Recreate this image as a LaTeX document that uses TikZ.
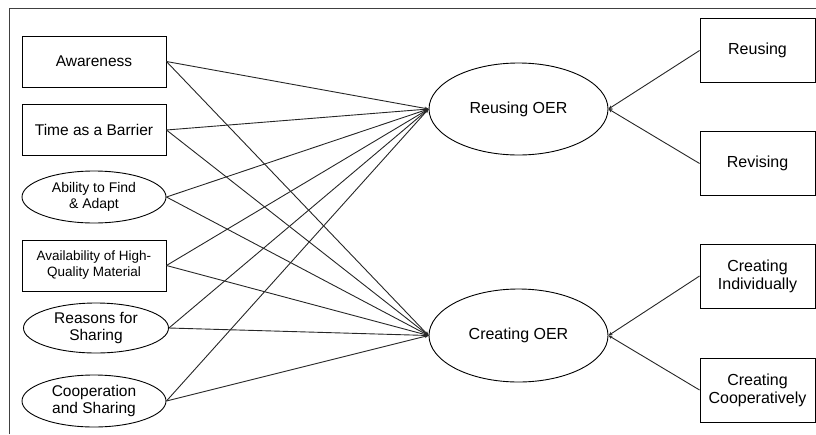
\documentclass[tikz,border=0pt]{standalone}
\usepackage{fontspec}
\setmainfont{Liberation Sans}
\usetikzlibrary{shapes,arrows.meta,positioning}

\tikzset{
	factor/.style={draw, rectangle, minimum width=144, minimum height=51, inner sep=0pt, align=center, font=\fontsize{15.5}{17}\selectfont},
	factoroval/.style={draw, ellipse, minimum width=144, minimum height=52, inner sep=0pt, align=center, font=\fontsize{15.5}{17}\selectfont},
	latent/.style={draw, ellipse, minimum width=179, minimum height=92, inner sep=0pt, font=\fontsize{16}{18}\selectfont},
	item/.style={draw, rectangle, minimum width=115, minimum height=64, inner sep=0pt, align=center, font=\fontsize{16}{18}\selectfont},
	path/.style={-{Stealth[length=4pt,width=3.5pt]}, line width=0.9pt, draw=black!85}
}

\begin{document}
\begin{tikzpicture}[x=1pt,y=-1pt, line width=0.9pt]
				\useasboundingbox (0,0) rectangle (816,434);
				\draw [line width=1pt, draw=black!75] (9,434) -- (9,8) -- (816,8);
				% factors
				\node [factor] (aware) at (94,61.5) {Awareness};
				\node [factor] (time) at (94,130) {Time as a Barrier};
				\node [factoroval, font=\fontsize{14}{16}\selectfont] (find) at (94,197) {Ability to Find\\ \& Adapt};
				\node [factor, font=\fontsize{13.5}{16}\selectfont] (avail) at (94,265.5) {Availability of High-\\Quality Material};
				\node [factoroval, minimum width=145, minimum height=50] (reason) at (96,328) {Reasons for\\Sharing};
				\node [factoroval] (coop) at (94,401) {Cooperation\\and Sharing};
				% latent variables
				\node [latent] (reuse) at (518.5,109) {Reusing OER};
				\node [latent, minimum height=93] (create) at (518.5,335.5) {Creating OER};
				% items
				\node [item] (reusing) at (757.5,50.5) {Reusing};
				\node [item] (revising) at (757.5,163.5) {Revising};
				\node [item] (indiv) at (757.5,276) {Creating\\Individually};
				\node [item] (coopv) at (757.5,390) {Creating\\Cooperatively};
				% paths
				\foreach \f in {aware,time,find,avail,reason,coop}{
					\draw [path] (\f.east) -- (reuse.west);
					\draw [path] (\f.east) -- (create.west);
				}
				\draw [path] (reusing.west) -- (reuse.east);
				\draw [path] (revising.west) -- (reuse.east);
				\draw [path] (indiv.west) -- (create.east);
				\draw [path] (coopv.west) -- (create.east);
\end{tikzpicture}
\end{document}
